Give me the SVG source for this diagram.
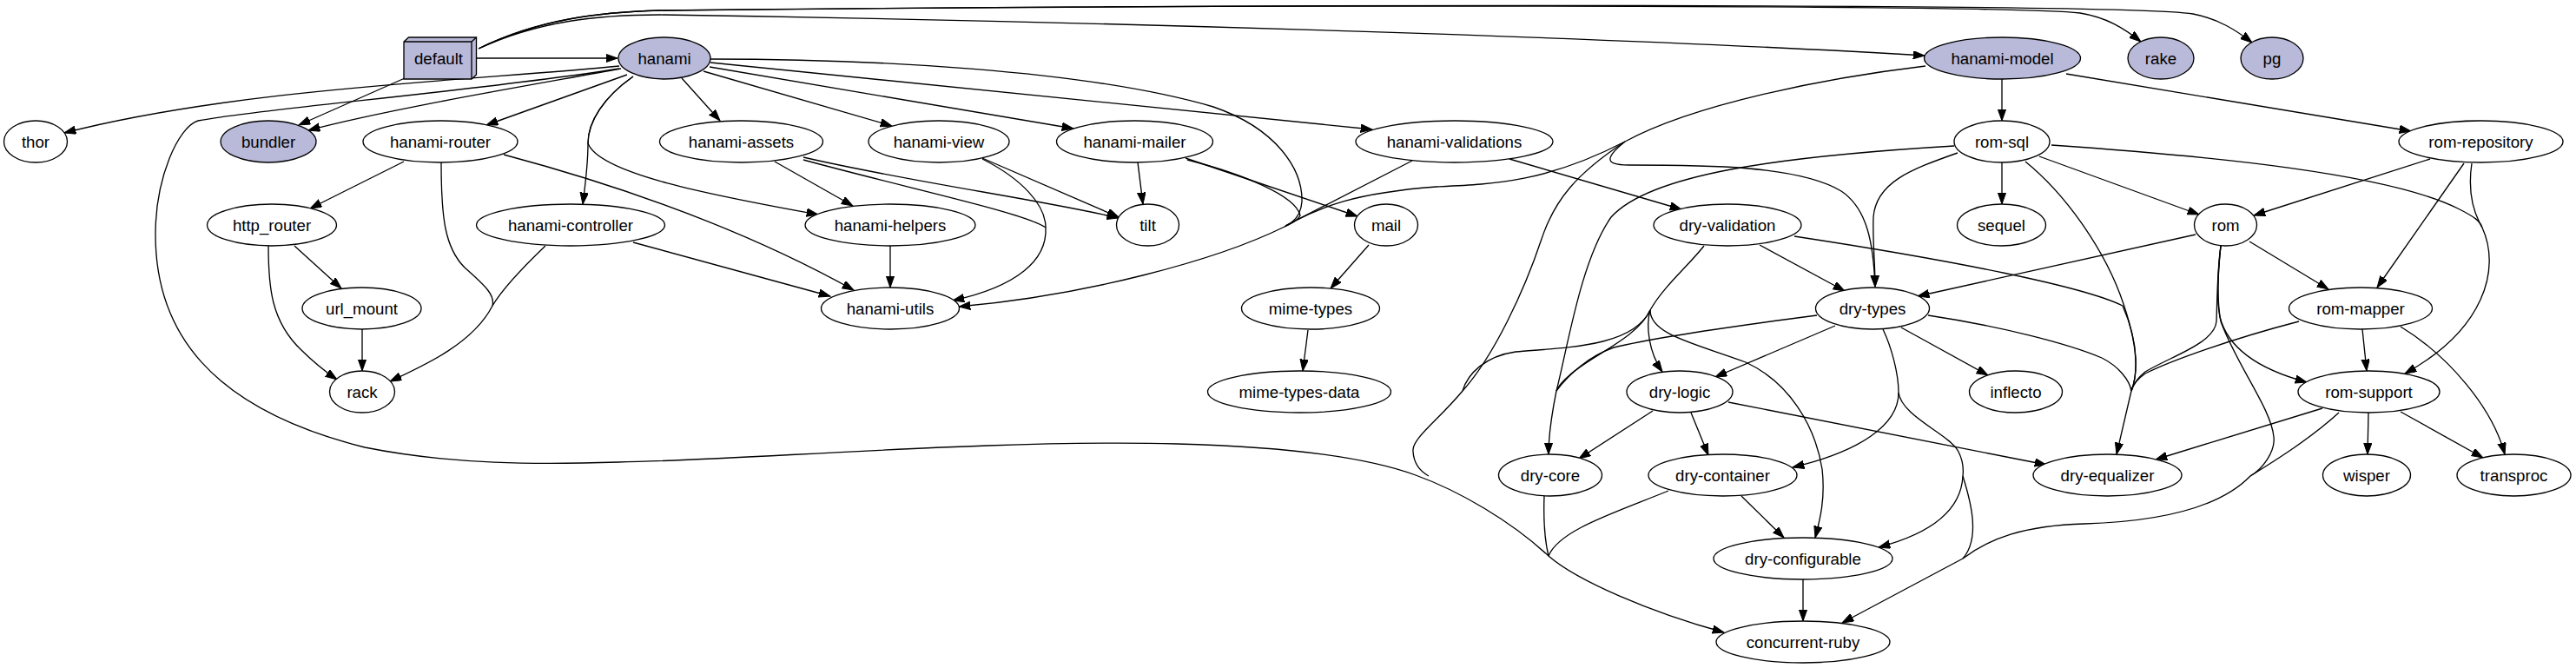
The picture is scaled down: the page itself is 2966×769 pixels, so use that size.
<svg xmlns="http://www.w3.org/2000/svg" width="2966" height="769" viewBox="0 0 2966 769">
<style>
.n ellipse,.n polygon{fill:#ffffff;stroke:#000;stroke-width:1.33}
.f ellipse,.f polygon{fill:#b9b9d9}
.n text{font-family:"Liberation Sans",Arial,sans-serif;font-size:18.67px;text-anchor:middle;fill:#000}
.n line{stroke:#000;stroke-width:1.33}
#edges path{fill:none;stroke:#000;stroke-width:1.33}
</style>
<defs>
<marker id="ah" markerWidth="14" markerHeight="10" refX="13.3" refY="4.7" orient="auto" markerUnits="userSpaceOnUse"><path d="M0,0 L13.3,4.7 L0,9.4 z" fill="#000" stroke="#000" stroke-width="1"/></marker>
</defs>
<rect width="2966" height="769" fill="#fff"/>
<g id="edges">
<path d="M548,67 L711,67" marker-end="url(#ah)"/>
<path d="M466,90 L344,144" marker-end="url(#ah)"/>
<path d="M551,56 C620,22 690,14 760,12 C1400,5 2300,5 2395,15 C2425,20 2445,32 2465,48" marker-end="url(#ah)"/>
<path d="M551,56 C620,22 690,14 760,12 C1500,4 2450,4 2525,16 C2555,22 2575,35 2593,49" marker-end="url(#ah)"/>
<path d="M551,56 C620,24 690,17 760,17 C1300,25 1900,45 2216,64" marker-end="url(#ah)"/>
<path d="M713,76 C560,92 280,100 74,153" marker-end="url(#ah)"/>
<path d="M715,79 C600,100 450,125 355,150" marker-end="url(#ah)"/>
<path d="M722,86 L560,144" marker-end="url(#ah)"/>
<path d="M729,88 C695,112 677,140 677,165 C677,190 674,212 671,235" marker-end="url(#ah)"/>
<path d="M729,88 C695,112 677,140 677,165 C690,200 820,225 942,247" marker-end="url(#ah)"/>
<path d="M785,90 L829,139" marker-end="url(#ah)"/>
<path d="M810,82 L1027,145" marker-end="url(#ah)"/>
<path d="M817,77 L1236,148" marker-end="url(#ah)"/>
<path d="M818,72 L1580,149" marker-end="url(#ah)"/>
<path d="M818,68 C1000,68 1250,80 1397,123 C1470,148 1500,195 1499,232 C1498,248 1490,256 1479,261"/>
<path d="M1479,261 C1400,300 1250,340 1104,353" marker-end="url(#ah)"/>
<path d="M713,79 C550,105 300,125 228,139 C205,146 179,205 179,270 C179,380 240,470 420,515 C520,535 620,535 712,532 C850,530 1150,505 1355,511 C1470,514 1570,525 1630,547 C1680,565 1740,600 1783,640 C1815,668 1900,705 1985,728" marker-end="url(#ah)"/>
<path d="M465,186 L357,240" marker-end="url(#ah)"/>
<path d="M508,187 C508,250 512,285 535,308 C560,330 570,340 567,352"/>
<path d="M628,283 C605,305 580,330 567,352"/>
<path d="M567,352 C545,395 490,420 449,439" marker-end="url(#ah)"/>
<path d="M580,178 C700,210 850,260 983,334" marker-end="url(#ah)"/>
<path d="M729,279 L956,341" marker-end="url(#ah)"/>
<path d="M892,186 L982,237" marker-end="url(#ah)"/>
<path d="M925,181 C1050,210 1200,230 1288,251" marker-end="url(#ah)"/>
<path d="M925,184 C1050,218 1180,245 1204,262"/>
<path d="M1131,182 L1288,250" marker-end="url(#ah)"/>
<path d="M1131,183 C1175,205 1204,235 1204,262"/>
<path d="M1204,262 C1206,300 1170,330 1097,346" marker-end="url(#ah)"/>
<path d="M1310,187 L1316,235" marker-end="url(#ah)"/>
<path d="M1365,182 L1563,249" marker-end="url(#ah)"/>
<path d="M1367,184 C1430,200 1492,225 1497,248 C1494,254 1486,258 1479,261"/>
<path d="M1626,185 L1480,260"/>
<path d="M1738,183 L1936,241" marker-end="url(#ah)"/>
<path d="M2305,91 L2305,139" marker-end="url(#ah)"/>
<path d="M2379,85 L2776,151" marker-end="url(#ah)"/>
<path d="M2217,76 C2100,90 1950,120 1871,163"/>
<path d="M1871,163 C1780,210 1720,212 1654,215 C1560,222 1520,238 1480,260"/>
<path d="M1871,163 C1815,200 1790,230 1775,275 C1755,335 1720,410 1684,450 C1655,485 1625,505 1627,520 C1628,535 1636,543 1645,548"/>
<path d="M1871,163 C1850,180 1845,190 1875,190 C1960,190 2070,190 2120,220 C2150,240 2157,280 2159,330" marker-end="url(#ah)"/>
<path d="M2305,187 L2305,235" marker-end="url(#ah)"/>
<path d="M2348,180 L2532,247" marker-end="url(#ah)"/>
<path d="M2254,176 C2200,195 2160,210 2157,250 C2156,280 2159,300 2159,330" marker-end="url(#ah)"/>
<path d="M2250,168 C2050,180 1900,200 1855,250 C1820,300 1805,400 1792,450 C1786,480 1783,500 1783,523" marker-end="url(#ah)"/>
<path d="M2362,167 C2550,180 2750,200 2830,240 C2850,250 2856,255 2858,262"/>
<path d="M2846,188 C2842,215 2845,240 2858,262"/>
<path d="M2858,262 C2880,310 2860,380 2769,430" marker-end="url(#ah)"/>
<path d="M2332,186 C2380,225 2425,290 2445,350 C2462,400 2462,430 2454,450"/>
<path d="M2454,450 L2437,523" marker-end="url(#ah)"/>
<path d="M2798,183 L2595,248" marker-end="url(#ah)"/>
<path d="M2837,188 L2737,331" marker-end="url(#ah)"/>
<path d="M339,283 L393,332" marker-end="url(#ah)"/>
<path d="M309,283 C309,330 312,370 347,403 C360,416 375,428 388,437" marker-end="url(#ah)"/>
<path d="M417,379 L417,427" marker-end="url(#ah)"/>
<path d="M1025,283 L1025,331" marker-end="url(#ah)"/>
<path d="M1576,282 L1532,332" marker-end="url(#ah)"/>
<path d="M1506,380 L1500,427" marker-end="url(#ah)"/>
<path d="M2026,282 L2124,335" marker-end="url(#ah)"/>
<path d="M2066,272 C2250,300 2400,330 2444,352 C2465,400 2460,435 2454,450"/>
<path d="M1962,283 C1945,305 1915,330 1900,357"/>
<path d="M1900,357 C1895,375 1898,405 1914,428" marker-end="url(#ah)"/>
<path d="M1900,357 C1900,385 1950,395 2010,417 C2060,440 2090,490 2098,540 C2102,575 2095,600 2090,619" marker-end="url(#ah)"/>
<path d="M1900,357 C1885,390 1830,410 1806,433 C1798,440 1794,445 1792,450"/>
<path d="M1900,357 C1880,400 1800,400 1745,405 C1710,410 1690,430 1684,450"/>
<path d="M2113,375 L1975,434" marker-end="url(#ah)"/>
<path d="M2189,377 L2289,432" marker-end="url(#ah)"/>
<path d="M2220,363 C2300,375 2380,395 2420,412 C2440,422 2452,438 2454,450"/>
<path d="M2092,363 C2000,375 1900,390 1858,400 C1830,410 1807,430 1792,450"/>
<path d="M2168,379 C2178,400 2186,430 2186,452"/>
<path d="M2186,452 C2186,490 2140,520 2064,538" marker-end="url(#ah)"/>
<path d="M2186,452 C2190,480 2245,500 2255,520 C2260,530 2261,540 2260,548"/>
<path d="M2260,548 C2258,590 2220,615 2163,630" marker-end="url(#ah)"/>
<path d="M2260,548 C2270,580 2280,620 2260,643"/>
<path d="M2528,270 L2208,341" marker-end="url(#ah)"/>
<path d="M2590,278 L2681,333" marker-end="url(#ah)"/>
<path d="M2557,283 C2553,310 2553,340 2552,370 C2550,395 2500,410 2470,428 C2460,436 2456,443 2454,450"/>
<path d="M2557,283 C2553,320 2553,350 2556,365 C2565,400 2600,425 2656,440" marker-end="url(#ah)"/>
<path d="M2557,283 C2553,320 2553,350 2557,370 C2575,420 2615,470 2618,503 C2620,520 2605,540 2591,548"/>
<path d="M2693,475 C2660,505 2620,530 2591,548"/>
<path d="M2591,548 C2560,580 2500,600 2400,603 C2330,605 2290,620 2260,643"/>
<path d="M2260,643 L2121,717" marker-end="url(#ah)"/>
<path d="M2720,379 L2725,427" marker-end="url(#ah)"/>
<path d="M2764,376 C2820,410 2870,470 2884,523" marker-end="url(#ah)"/>
<path d="M2647,370 C2570,390 2500,415 2470,430 C2460,437 2456,443 2454,450"/>
<path d="M2674,470 L2482,529" marker-end="url(#ah)"/>
<path d="M2727,475 L2726,523" marker-end="url(#ah)"/>
<path d="M2764,474 L2859,527" marker-end="url(#ah)"/>
<path d="M1903,473 L1818,528" marker-end="url(#ah)"/>
<path d="M1947,475 L1967,524" marker-end="url(#ah)"/>
<path d="M1990,463 L2356,535" marker-end="url(#ah)"/>
<path d="M1778,571 C1777,600 1778,620 1783,640"/>
<path d="M1921,565 C1860,590 1795,610 1783,640"/>
<path d="M2005,571 L2054,619" marker-end="url(#ah)"/>
<path d="M2076,667 L2076,715" marker-end="url(#ah)"/>
</g>
<g id="default" class="n f"><polygon points="465,48 470.5,43 548.5,43 548.5,86 543,91 465,91"/><line x1="465" y1="48" x2="543" y2="48"/><line x1="543" y1="48" x2="548.5" y2="43"/><line x1="543" y1="48" x2="543" y2="91"/><text x="505" y="73.5">default</text></g>
<g id="hanami" class="n f"><ellipse cx="765" cy="67" rx="53" ry="24"/><text x="765" y="73.5">hanami</text></g>
<g id="hanami-model" class="n f"><ellipse cx="2305.5" cy="67" rx="90" ry="24"/><text x="2305.5" y="73.5">hanami-model</text></g>
<g id="rake" class="n f"><ellipse cx="2488" cy="67" rx="38" ry="24"/><text x="2488" y="73.5">rake</text></g>
<g id="pg" class="n f"><ellipse cx="2616" cy="67" rx="36" ry="24"/><text x="2616" y="73.5">pg</text></g>
<g id="thor" class="n"><ellipse cx="41" cy="163" rx="36.5" ry="24"/><text x="41" y="169.5">thor</text></g>
<g id="bundler" class="n f"><ellipse cx="309" cy="163" rx="55" ry="24"/><text x="309" y="169.5">bundler</text></g>
<g id="hanami-router" class="n"><ellipse cx="507" cy="163" rx="89" ry="24"/><text x="507" y="169.5">hanami-router</text></g>
<g id="hanami-assets" class="n"><ellipse cx="853.5" cy="163" rx="94" ry="24"/><text x="853.5" y="169.5">hanami-assets</text></g>
<g id="hanami-view" class="n"><ellipse cx="1081" cy="163" rx="81" ry="24"/><text x="1081" y="169.5">hanami-view</text></g>
<g id="hanami-mailer" class="n"><ellipse cx="1306.5" cy="163" rx="90" ry="24"/><text x="1306.5" y="169.5">hanami-mailer</text></g>
<g id="hanami-validations" class="n"><ellipse cx="1674.5" cy="163" rx="113.5" ry="24"/><text x="1674.5" y="169.5">hanami-validations</text></g>
<g id="rom-sql" class="n"><ellipse cx="2305" cy="163" rx="55" ry="24"/><text x="2305" y="169.5">rom-sql</text></g>
<g id="rom-repository" class="n"><ellipse cx="2856.5" cy="163" rx="94.5" ry="24"/><text x="2856.5" y="169.5">rom-repository</text></g>
<g id="http_router" class="n"><ellipse cx="313" cy="259" rx="74.5" ry="24"/><text x="313" y="265.5">http_router</text></g>
<g id="hanami-controller" class="n"><ellipse cx="657" cy="259" rx="108.5" ry="24"/><text x="657" y="265.5">hanami-controller</text></g>
<g id="hanami-helpers" class="n"><ellipse cx="1025" cy="259" rx="98" ry="24"/><text x="1025" y="265.5">hanami-helpers</text></g>
<g id="tilt" class="n"><ellipse cx="1321.5" cy="259" rx="36" ry="24"/><text x="1321.5" y="265.5">tilt</text></g>
<g id="mail" class="n"><ellipse cx="1596" cy="259" rx="36.5" ry="24"/><text x="1596" y="265.5">mail</text></g>
<g id="dry-validation" class="n"><ellipse cx="1989" cy="259" rx="85" ry="24"/><text x="1989" y="265.5">dry-validation</text></g>
<g id="sequel" class="n"><ellipse cx="2304.5" cy="259" rx="51" ry="24"/><text x="2304.5" y="265.5">sequel</text></g>
<g id="rom" class="n"><ellipse cx="2562.5" cy="259" rx="36" ry="24"/><text x="2562.5" y="265.5">rom</text></g>
<g id="url_mount" class="n"><ellipse cx="416.5" cy="355" rx="68.5" ry="24"/><text x="416.5" y="361.5">url_mount</text></g>
<g id="hanami-utils" class="n"><ellipse cx="1025" cy="355" rx="79.5" ry="24"/><text x="1025" y="361.5">hanami-utils</text></g>
<g id="mime-types" class="n"><ellipse cx="1509" cy="355" rx="79.5" ry="24"/><text x="1509" y="361.5">mime-types</text></g>
<g id="dry-types" class="n"><ellipse cx="2156" cy="355" rx="65.5" ry="24"/><text x="2156" y="361.5">dry-types</text></g>
<g id="rom-mapper" class="n"><ellipse cx="2718" cy="355" rx="82.5" ry="24"/><text x="2718" y="361.5">rom-mapper</text></g>
<g id="rack" class="n"><ellipse cx="417" cy="451" rx="37.5" ry="24"/><text x="417" y="457.5">rack</text></g>
<g id="mime-types-data" class="n"><ellipse cx="1496" cy="451" rx="105.5" ry="24"/><text x="1496" y="457.5">mime-types-data</text></g>
<g id="dry-logic" class="n"><ellipse cx="1934" cy="451" rx="61" ry="24"/><text x="1934" y="457.5">dry-logic</text></g>
<g id="inflecto" class="n"><ellipse cx="2321" cy="451" rx="53.5" ry="24"/><text x="2321" y="457.5">inflecto</text></g>
<g id="rom-support" class="n"><ellipse cx="2727.5" cy="451" rx="81.5" ry="24"/><text x="2727.5" y="457.5">rom-support</text></g>
<g id="dry-core" class="n"><ellipse cx="1785" cy="547" rx="59.5" ry="24"/><text x="1785" y="553.5">dry-core</text></g>
<g id="dry-container" class="n"><ellipse cx="1983.5" cy="547" rx="85.5" ry="24"/><text x="1983.5" y="553.5">dry-container</text></g>
<g id="dry-equalizer" class="n"><ellipse cx="2426.5" cy="547" rx="85.5" ry="24"/><text x="2426.5" y="553.5">dry-equalizer</text></g>
<g id="wisper" class="n"><ellipse cx="2725" cy="547" rx="50.5" ry="24"/><text x="2725" y="553.5">wisper</text></g>
<g id="transproc" class="n"><ellipse cx="2894.5" cy="547" rx="65.5" ry="24"/><text x="2894.5" y="553.5">transproc</text></g>
<g id="dry-configurable" class="n"><ellipse cx="2076" cy="643" rx="103" ry="24"/><text x="2076" y="649.5">dry-configurable</text></g>
<g id="concurrent-ruby" class="n"><ellipse cx="2076" cy="739" rx="100" ry="24"/><text x="2076" y="745.5">concurrent-ruby</text></g>
</svg>
